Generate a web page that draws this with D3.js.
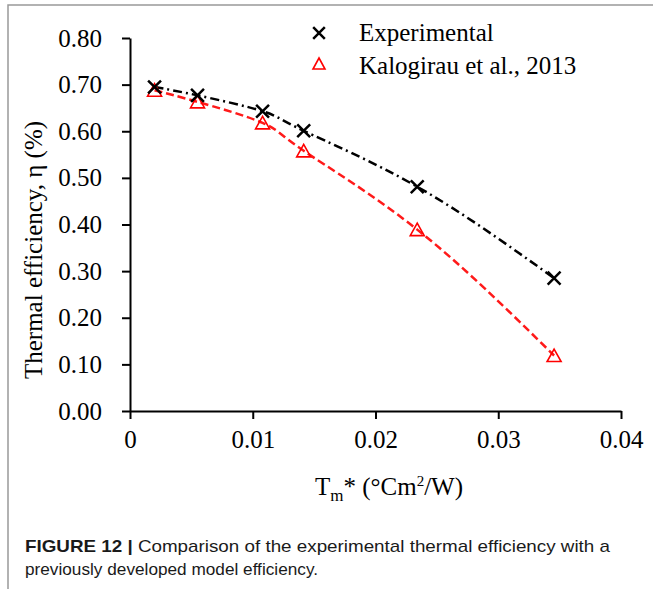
<!DOCTYPE html>
<html>
<head>
<meta charset="utf-8">
<script src="https://cdn.jsdelivr.net/npm/d3@7"></script>
<style>
  body { margin: 0; background: #fff; }
  svg text { font-family: "Liberation Serif", "Times New Roman", serif; fill: #000; }
  svg text.cap { font-family: "Liberation Sans", Arial, sans-serif; fill: #1a1a1a; }
</style>
</head>
<body>
<div id="chart"></div>
<script>
// data
var tm = [0.0020, 0.0055, 0.0108, 0.01415, 0.0234, 0.03455]
var experimental = [0.695, 0.677, 0.643, 0.601, 0.481, 0.285]
var kalogirau = [0.688, 0.663, 0.618, 0.558, 0.389, 0.119]
var xticks = [0, 0.01, 0.02, 0.03, 0.04]
var yticks = [0, 0.1, 0.2, 0.3, 0.4, 0.5, 0.6, 0.7, 0.8]
var legendNames = ['Experimental', 'Kalogirau et al., 2013']

// dimensions
var w = 653,
    h = 589,
    pl = 130,
    pr = 621,
    pt = 38,
    pb = 411

var svg = d3.select('#chart')
    .append('svg')
    .attr('width', w)
    .attr('height', h)

// frame
svg.append('path')
    .attr('d', 'M8,' + h + 'V5H' + w)
    .attr('fill', 'none')
    .attr('stroke', '#999')
    .attr('stroke-width', 1.5)

// scales
var x = d3.scaleLinear().domain([0, 0.04]).range([pl, pr])
var y = d3.scaleLinear().domain([0, 0.8]).range([pb, pt])

// axes
var xaxis = d3.axisBottom(x)
    .tickValues(xticks)
    .tickFormat(d => d === 0 ? '0' : d3.format('.2f')(d))
    .tickSize(8)
    .tickSizeOuter(0)
    .tickPadding(11)

var yaxis = d3.axisLeft(y)
    .tickValues(yticks)
    .tickFormat(d3.format('.2f'))
    .tickSize(8)
    .tickSizeOuter(0)
    .tickPadding(20)

svg.append('g')
    .attr('transform', `translate(0,${pb})`)
    .call(xaxis)

svg.append('g')
    .attr('transform', `translate(${pl},0)`)
    .call(yaxis)

svg.selectAll('.domain, .tick line')
    .attr('stroke', '#000')
    .attr('stroke-width', 2)

svg.selectAll('.tick text')
    .attr('font-family', '"Liberation Serif", serif')
    .attr('font-size', 25)
    .attr('fill', '#000')

// trend lines
var line = d3.line()
    .x(d => x(d[0]))
    .y(d => y(d[1]))
    .curve(d3.curveNatural)

svg.append('path')
    .datum(d3.zip(tm, kalogirau))
    .attr('d', line)
    .attr('fill', 'none')
    .attr('stroke', '#ff1a1a')
    .attr('stroke-width', 2.5)
    .attr('stroke-dasharray', '8,4')

svg.append('path')
    .datum(d3.zip(tm, experimental))
    .attr('d', line)
    .attr('fill', 'none')
    .attr('stroke', '#000')
    .attr('stroke-width', 2.5)
    .attr('stroke-dasharray', '9,4,2,4')

// markers
var cross = d3.symbol().type(d3.symbolX).size(110)
var tri = 'M0,-6.5L7,6L-7,6Z'

svg.selectAll('.tri')
    .data(d3.zip(tm, kalogirau))
    .enter()
    .append('path')
    .attr('class', 'tri')
    .attr('d', tri)
    .attr('transform', d => `translate(${x(d[0])},${y(d[1])})`)
    .attr('fill', 'none')
    .attr('stroke', '#ff0000')
    .attr('stroke-width', 1.6)

svg.selectAll('.cross')
    .data(d3.zip(tm, experimental))
    .enter()
    .append('path')
    .attr('class', 'cross')
    .attr('d', cross)
    .attr('transform', d => `translate(${x(d[0])},${y(d[1])})`)
    .attr('fill', 'none')
    .attr('stroke', '#000')
    .attr('stroke-width', 2.5)

// legend
svg.append('path')
    .attr('d', d3.symbol().type(d3.symbolX).size(90))
    .attr('transform', 'translate(319,33)')
    .attr('fill', 'none')
    .attr('stroke', '#000')
    .attr('stroke-width', 2.5)

svg.append('path')
    .attr('d', 'M0,-6L6,5L-6,5Z')
    .attr('transform', 'translate(319,64)')
    .attr('fill', 'none')
    .attr('stroke', '#ff0000')
    .attr('stroke-width', 1.6)

svg.selectAll('.leg')
    .data(legendNames)
    .enter()
    .append('text')
    .attr('x', 359)
    .attr('y', (d, i) => 41 + i * 33)
    .attr('font-size', 25)
    .text(d => d)

// axis titles
var xt = svg.append('text')
    .attr('x', 389)
    .attr('y', 495)
    .attr('text-anchor', 'middle')
    .attr('font-size', 25)
xt.append('tspan').text('T')
xt.append('tspan').attr('font-size', 17).attr('dy', 6).text('m')
xt.append('tspan').attr('dy', -6).text('* (°Cm')
xt.append('tspan').attr('font-size', 15).attr('dy', -9).text('2')
xt.append('tspan').attr('dy', 9).text('/W)')

svg.append('text')
    .attr('transform', 'translate(42,250) rotate(-90)')
    .attr('text-anchor', 'middle')
    .attr('font-size', 25)
    .text('Thermal efficiency, η (%)')

// caption
var c1 = svg.append('text')
    .attr('class', 'cap')
    .attr('x', 25)
    .attr('y', 552)
    .attr('font-size', 17)
    .attr('textLength', 585)
    .attr('lengthAdjust', 'spacingAndGlyphs')
c1.append('tspan').attr('font-weight', 'bold').text('FIGURE 12 | ')
c1.append('tspan').text('Comparison of the experimental thermal efficiency with a')

svg.append('text')
    .attr('class', 'cap')
    .attr('x', 25)
    .attr('y', 575)
    .attr('font-size', 17)
    .attr('textLength', 293)
    .attr('lengthAdjust', 'spacingAndGlyphs')
    .text('previously developed model efficiency.')
</script>
</body>
</html>
